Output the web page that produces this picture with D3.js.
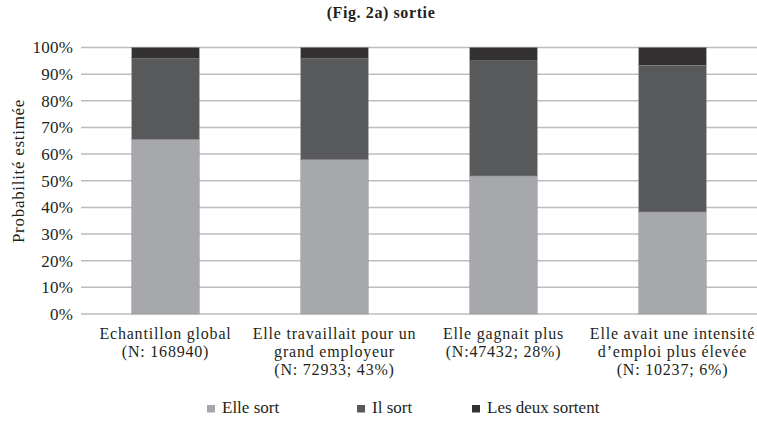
<!DOCTYPE html>
<html>
<head>
<meta charset="utf-8">
<script src="https://cdn.jsdelivr.net/npm/d3@7"></script>
</head>
<body style="margin:0">
<script>
// categories (multi-line labels)
var categories = [
  ["Echantillon global", "(N: 168940)"],
  ["Elle travaillait pour un", "grand employeur", "(N: 72933; 43%)"],
  ["Elle gagnait plus", "(N:47432; 28%)"],
  ["Elle avait une intensité", "d\u2019emploi plus élevée", "(N: 10237; 6%)"]
];
var series = ["Elle sort", "Il sort", "Les deux sortent"];
var elleSort = [65.5, 57.9, 51.8, 38.3];
var ilSort = [30.3, 37.9, 43.2, 55.0];
var deuxSortent = [4.2, 4.2, 5.0, 6.7];
var colors = ["#a7a8ab", "#58595b", "#333132"];
var yTicks = [0, 10, 20, 30, 40, 50, 60, 70, 80, 90, 100];

var FONT = "Liberation Serif";
var INK = "#231f20";

var width = 757, height = 421;
var margin = {top: 47.5, right: 0, bottom: 107, left: 81};
var w = width - margin.left - margin.right,
    h = height - margin.top - margin.bottom;

var svg = d3.select("body").append("svg")
    .attr("width", width)
    .attr("height", height)
    .attr("font-family", FONT);

var g = svg.append("g")
    .attr("transform", "translate(" + margin.left + "," + margin.top + ")");

var x = d3.scaleBand().domain(d3.range(categories.length)).range([0, w]).paddingInner(0.6).paddingOuter(0.3);
var y = d3.scaleLinear().domain([0, 100]).range([h, 0]);

// gridlines
g.selectAll(".grid").data(yTicks).enter().append("line")
    .attr("x1", 0).attr("x2", w)
    .attr("y1", function(d) { return y(d); })
    .attr("y2", function(d) { return y(d); })
    .attr("stroke", "#bcbdbf")
    .attr("stroke-width", 1.5);

// y tick labels
var yAxis = g.append("g").call(d3.axisLeft(y).tickValues(yTicks).tickSize(0).tickPadding(8)
    .tickFormat(function(d) { return d + "%"; }));
yAxis.attr("font-family", FONT).attr("font-size", 17);
yAxis.select(".domain").remove();
yAxis.selectAll("text")
    .attr("font-family", FONT)
    .attr("letter-spacing", 0.2)
    .attr("fill", INK);

// stacked bars
var rows = categories.map(function(c, i) {
  return {i: i, "Elle sort": elleSort[i], "Il sort": ilSort[i], "Les deux sortent": deuxSortent[i]};
});
var stack = d3.stack().keys(series)(rows);

g.selectAll(".layer").data(stack).enter().append("g")
    .attr("fill", function(d, i) { return colors[i]; })
  .selectAll("rect").data(function(d) { return d; }).enter().append("rect")
    .attr("x", function(d) { return x(d.data.i); })
    .attr("width", x.bandwidth())
    .attr("y", function(d) { return y(d[1]); })
    .attr("height", function(d) { return y(d[0]) - y(d[1]); })
    .attr("stroke", "#8e8f91")
    .attr("stroke-width", 0.4);

// x labels
var lineY = [339, 357, 375];
var xl = g.selectAll(".xl").data(categories).enter().append("text")
    .attr("text-anchor", "middle")
    .attr("transform", function(d, i) { return "translate(" + (x(i) + x.bandwidth() / 2) + ",0)"; })
    .attr("font-size", 16)
    .attr("font-family", FONT)
    .attr("letter-spacing", 0.8)
    .attr("fill", INK);
xl.selectAll("tspan").data(function(d) { return d; }).enter().append("tspan")
    .attr("x", 0)
    .attr("y", function(d, i) { return lineY[i] - margin.top; })
    .text(function(d) { return d; });

// y axis title
svg.append("text")
    .attr("transform", "translate(24,171) rotate(-90)")
    .attr("text-anchor", "middle")
    .attr("font-size", 17)
    .attr("font-family", FONT)
    .attr("letter-spacing", 0.7)
    .attr("fill", INK)
    .text("Probabilité estimée");

// title
svg.append("text")
    .attr("x", 381).attr("y", 18)
    .attr("text-anchor", "middle")
    .attr("font-size", 16)
    .attr("font-weight", "bold")
    .attr("font-family", FONT)
    .attr("letter-spacing", 0.6)
    .attr("fill", INK)
    .text("(Fig. 2a) sortie");

// legend
var legX = [207, 357, 472];
var leg = svg.selectAll(".leg").data(series).enter().append("g")
    .attr("transform", function(d, i) { return "translate(" + legX[i] + ",413)"; });
leg.append("rect").attr("x", 0).attr("y", -8).attr("width", 8).attr("height", 7.5)
    .attr("fill", function(d, i) { return colors[i]; });
leg.append("text").attr("x", 15).attr("y", 0)
    .attr("font-size", 17)
    .attr("font-family", FONT)
    .attr("fill", INK)
    .text(function(d) { return d; });
</script>
</body>
</html>
